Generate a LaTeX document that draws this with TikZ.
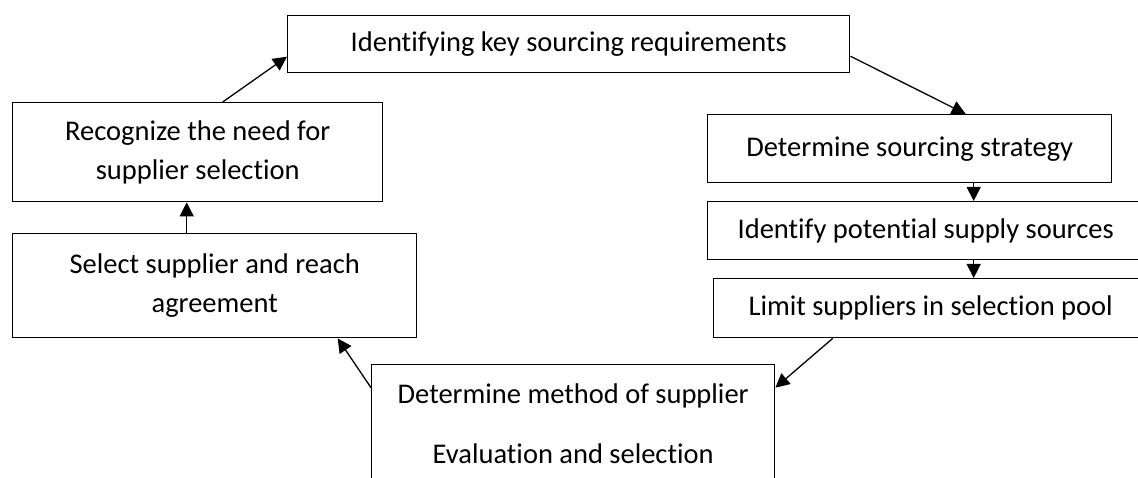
\documentclass[tikz,border=0pt]{standalone}
\usepackage{fontspec}
\setmainfont{Carlito}[Ligatures={NoCommon}]
\usetikzlibrary{arrows.meta}
\begin{document}
\begin{tikzpicture}[x=1pt,y=-1pt,
	box/.style={draw,line width=1.4pt,anchor=north west,inner sep=0pt,align=center,font=\fontsize{28.5}{39}\selectfont},
	arr/.style={line width=1.3pt,-{Triangle[length=14pt,width=14pt]}}]
	\clip (0,0) rectangle (1138,478);
	\fill[white] (0,0) rectangle (1138,478);
	\node[box,minimum width=562pt,minimum height=57pt] (T) at (287,15) {Identifying key sourcing requirements};
	\node[box,minimum width=370pt,minimum height=99pt] (R) at (12,102) {Recognize the need for\\supplier selection};
	\node[box,minimum width=404pt,minimum height=104pt] (S) at (12,233) {Select supplier and reach\\agreement};
	\node[box,minimum width=404pt,minimum height=68pt] (D) at (707,114) {Determine sourcing strategy};
	\node[box,minimum width=436pt,minimum height=58pt] (I) at (707,201) {Identify potential supply sources};
	\node[box,minimum width=434pt,minimum height=59pt] (L) at (713,278) {Limit suppliers in selection pool};
	\node[box,minimum width=403pt,minimum height=118pt,font=\fontsize{28.5}{60}\selectfont] (B) at (371,364) {Determine method of supplier\\Evaluation and selection};
	\draw[arr] ([xshift=-28pt]S.north) -- ([xshift=-11pt]R.south);
	\draw[arr] ([xshift=25pt]R.north) -- ([yshift=-12.5pt]T.west);
	\draw[arr] ([yshift=-12pt]T.east) -- ([xshift=56pt]D.north);
	\draw[arr] ([xshift=64pt]D.south) -- ([xshift=48pt]I.north);
	\draw[arr] ([xshift=48pt]I.south) -- ([xshift=43pt]L.north);
	\draw[arr] ([xshift=-98pt]L.south) -- ([yshift=36pt]B.east);
	\draw[arr] ([yshift=36pt]B.west) -- ([xshift=123pt]S.south);
\end{tikzpicture}
\end{document}
